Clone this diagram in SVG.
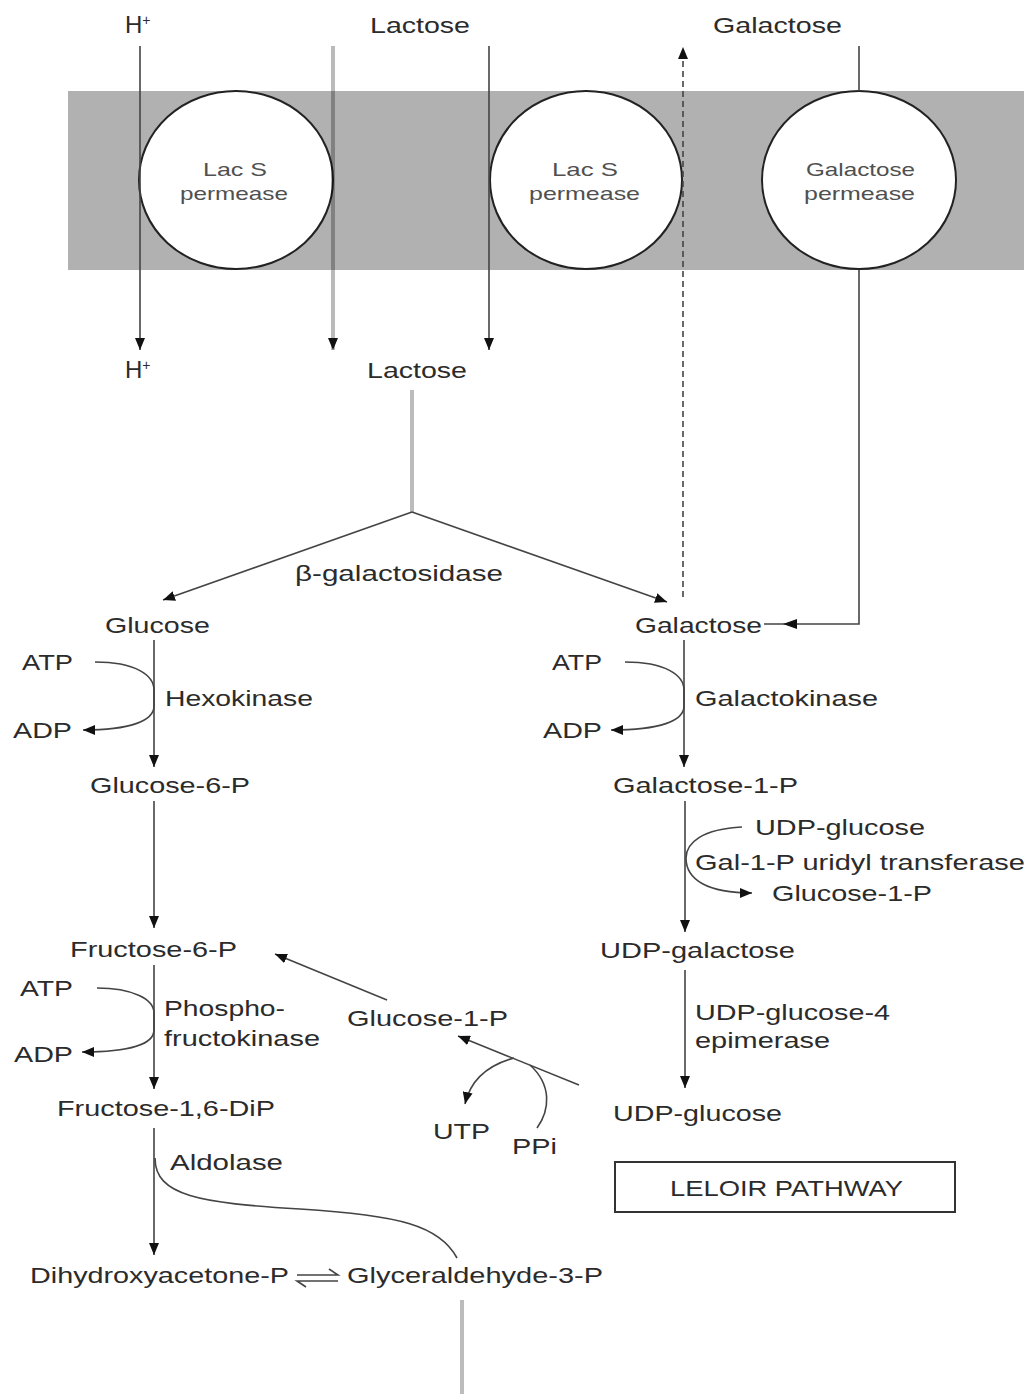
<svg xmlns="http://www.w3.org/2000/svg" width="1031" height="1394" viewBox="0 0 1031 1394">
<defs>
<style>
text{font-family:"Liberation Sans",Arial,sans-serif;font-size:22px;fill:#2b2b2b}
.c{font-size:19px;fill:#505050}
.ln{stroke:#444;stroke-width:1.6;fill:none}
.gl{stroke:#bcbcbc;stroke-width:4;fill:none}
.ds{stroke:#444;stroke-width:1.6;fill:none;stroke-dasharray:6 4}
.cir{fill:#fff;stroke:#222;stroke-width:2}
</style>
<marker id="ah" markerUnits="userSpaceOnUse" markerWidth="12" markerHeight="10" refX="12" refY="5" orient="auto">
<path d="M0,0 L12,5 L0,10 z" fill="#111"/>
</marker>
</defs>
<rect width="1031" height="1394" fill="#fff"/>

<g id="membrane">
<rect x="68" y="91" width="956" height="179" fill="#b1b1b1"/>
</g>

<g id="lacS1">
<ellipse class="cir" cx="236" cy="180" rx="97" ry="89"/>
<text class="c" x="203" y="176" textLength="64" lengthAdjust="spacingAndGlyphs">Lac S</text>
<text class="c" x="180" y="200" textLength="108" lengthAdjust="spacingAndGlyphs">permease</text>
</g>
<g id="lacS2">
<ellipse class="cir" cx="586" cy="180" rx="96" ry="89"/>
<text class="c" x="552" y="176" textLength="66" lengthAdjust="spacingAndGlyphs">Lac S</text>
<text class="c" x="529" y="200" textLength="111" lengthAdjust="spacingAndGlyphs">permease</text>
</g>
<g id="galPermease">
<ellipse class="cir" cx="859" cy="180" rx="97" ry="89"/>
<text class="c" x="806" y="176" textLength="109" lengthAdjust="spacingAndGlyphs">Galactose</text>
<text class="c" x="804" y="200" textLength="111" lengthAdjust="spacingAndGlyphs">permease</text>
</g>

<g id="connectors">
<path class="ln" d="M140,46 V350" marker-end="url(#ah)"/>
<path d="M333,46 V350" stroke="#000" stroke-opacity="0.27" stroke-width="4" fill="none"/>
<path d="M333,340 V350" stroke="none" fill="none" marker-end="url(#ah)"/>
<path class="ln" d="M489,46 V350" marker-end="url(#ah)"/>
<path class="ds" d="M683,597 V47" marker-end="url(#ah)"/>
<path class="ln" d="M859,46 V91"/>
<path class="ln" d="M859,270 V624 H764"/>
<path d="M783,624 L797,619 L797,629 z" fill="#111"/>
<path class="gl" d="M412,390 V512"/>
<path class="ln" d="M412,512 L163,600" marker-end="url(#ah)"/>
<path class="ln" d="M412,512 L667,602" marker-end="url(#ah)"/>
<path class="ln" d="M154,640 V767" marker-end="url(#ah)"/>
<path class="ln" d="M95,662 C135,662 154,675 154,690 L154,706 C154,721 130,730 83,730" marker-end="url(#ah)"/>
<path class="ln" d="M154,801 V928" marker-end="url(#ah)"/>
<path class="ln" d="M154,965 V1089" marker-end="url(#ah)"/>
<path class="ln" d="M97,988 C132,988 154,999 154,1013 L154,1030 C154,1044 130,1052 82,1052" marker-end="url(#ah)"/>
<path class="ln" d="M154,1128 V1255" marker-end="url(#ah)"/>
<path class="ln" d="M155,1158 C155,1196 200,1203 300,1209 C400,1215 440,1226 457,1258"/>
<path class="ln" d="M684,640 V767" marker-end="url(#ah)"/>
<path class="ln" d="M625,662 C665,662 684,675 684,690 L684,706 C684,721 660,730 611,730" marker-end="url(#ah)"/>
<path class="ln" d="M685,801 V932" marker-end="url(#ah)"/>
<path class="ln" d="M742,827 C702,829 686,843 686,858 C686,880 708,893 752,893" marker-end="url(#ah)"/>
<path class="ln" d="M685,970 V1088" marker-end="url(#ah)"/>
<path class="ln" d="M579,1085 L458,1036" marker-end="url(#ah)"/>
<path class="ln" d="M387,1000 L275,954" marker-end="url(#ah)"/>
<path class="ln" d="M514,1058 C485,1066 470,1082 465,1104" marker-end="url(#ah)"/>
<path class="ln" d="M530,1065 C552,1085 550,1110 537,1128"/>
<path class="ln" d="M297,1275 H338 L329,1269"/>
<path class="ln" d="M338,1281 H297 L306,1287"/>
<path class="gl" d="M462,1300 V1394"/>
</g>

<g id="Hout"><text x="125" y="33" font-size="24" style="font-size:24px">H<tspan dy="-8" style="font-size:14px">+</tspan></text></g>
<g id="lactoseOut"><text x="370" y="33" textLength="100" lengthAdjust="spacingAndGlyphs">Lactose</text></g>
<g id="galactoseOut"><text x="713" y="33" textLength="129" lengthAdjust="spacingAndGlyphs">Galactose</text></g>
<g id="Hin"><text x="125" y="378" style="font-size:24px">H<tspan dy="-8" style="font-size:14px">+</tspan></text></g>
<g id="lactoseIn"><text x="367" y="378" textLength="100" lengthAdjust="spacingAndGlyphs">Lactose</text></g>
<g id="bgal"><text x="295" y="581" textLength="208" lengthAdjust="spacingAndGlyphs">β-galactosidase</text></g>
<g id="glucose"><text x="105" y="633" textLength="105" lengthAdjust="spacingAndGlyphs">Glucose</text></g>
<g id="galactoseIn"><text x="635" y="633" textLength="127" lengthAdjust="spacingAndGlyphs">Galactose</text></g>
<g id="hexokinase">
<text x="22" y="670" textLength="51" lengthAdjust="spacingAndGlyphs">ATP</text>
<text x="165" y="706" textLength="148" lengthAdjust="spacingAndGlyphs">Hexokinase</text>
<text x="13" y="738" textLength="59" lengthAdjust="spacingAndGlyphs">ADP</text>
</g>
<g id="galactokinase">
<text x="552" y="670" textLength="50" lengthAdjust="spacingAndGlyphs">ATP</text>
<text x="695" y="706" textLength="183" lengthAdjust="spacingAndGlyphs">Galactokinase</text>
<text x="543" y="738" textLength="59" lengthAdjust="spacingAndGlyphs">ADP</text>
</g>
<g id="glucose6p"><text x="90" y="793" textLength="160" lengthAdjust="spacingAndGlyphs">Glucose-6-P</text></g>
<g id="galactose1p"><text x="613" y="793" textLength="185" lengthAdjust="spacingAndGlyphs">Galactose-1-P</text></g>
<g id="transferase">
<text x="755" y="835" textLength="170" lengthAdjust="spacingAndGlyphs">UDP-glucose</text>
<text x="695" y="870" textLength="330" lengthAdjust="spacingAndGlyphs">Gal-1-P uridyl transferase</text>
<text x="772" y="901" textLength="160" lengthAdjust="spacingAndGlyphs">Glucose-1-P</text>
</g>
<g id="udpGalactose"><text x="600" y="958" textLength="195" lengthAdjust="spacingAndGlyphs">UDP-galactose</text></g>
<g id="fructose6p"><text x="70" y="957" textLength="167" lengthAdjust="spacingAndGlyphs">Fructose-6-P</text></g>
<g id="pfk">
<text x="20" y="996" textLength="53" lengthAdjust="spacingAndGlyphs">ATP</text>
<text x="164" y="1016" textLength="121" lengthAdjust="spacingAndGlyphs">Phospho-</text>
<text x="164" y="1046" textLength="156" lengthAdjust="spacingAndGlyphs">fructokinase</text>
<text x="14" y="1062" textLength="59" lengthAdjust="spacingAndGlyphs">ADP</text>
</g>
<g id="glucose1p"><text x="347" y="1026" textLength="161" lengthAdjust="spacingAndGlyphs">Glucose-1-P</text></g>
<g id="epimerase">
<text x="695" y="1020" textLength="195" lengthAdjust="spacingAndGlyphs">UDP-glucose-4</text>
<text x="695" y="1048" textLength="135" lengthAdjust="spacingAndGlyphs">epimerase</text>
</g>
<g id="fructose16dip"><text x="57" y="1116" textLength="218" lengthAdjust="spacingAndGlyphs">Fructose-1,6-DiP</text></g>
<g id="udpGlucose"><text x="613" y="1121" textLength="169" lengthAdjust="spacingAndGlyphs">UDP-glucose</text></g>
<g id="utp"><text x="433" y="1139" textLength="57" lengthAdjust="spacingAndGlyphs">UTP</text></g>
<g id="ppi"><text x="512" y="1154" textLength="45" lengthAdjust="spacingAndGlyphs">PPi</text></g>
<g id="aldolase"><text x="170" y="1170" textLength="113" lengthAdjust="spacingAndGlyphs">Aldolase</text></g>
<g id="leloir">
<rect x="615" y="1162" width="340" height="50" fill="none" stroke="#333" stroke-width="2"/>
<text x="670" y="1196" textLength="233" lengthAdjust="spacingAndGlyphs">LELOIR PATHWAY</text>
</g>
<g id="dhap"><text x="30" y="1283" textLength="259" lengthAdjust="spacingAndGlyphs">Dihydroxyacetone-P</text></g>
<g id="g3p"><text x="347" y="1283" textLength="256" lengthAdjust="spacingAndGlyphs">Glyceraldehyde-3-P</text></g>
</svg>
